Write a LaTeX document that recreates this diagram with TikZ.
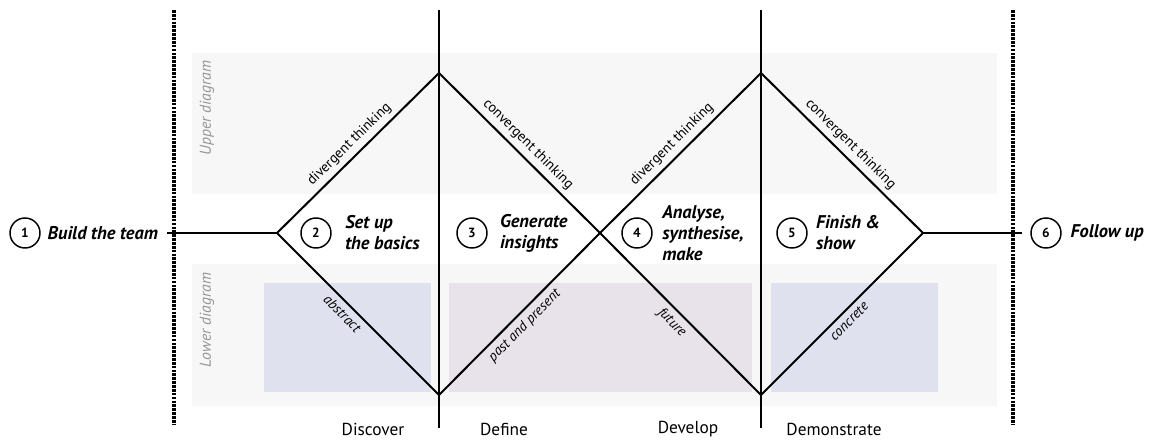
\documentclass[tikz,border=0pt]{standalone}
\usepackage{fontspec}
\setmainfont{PT Sans}
\usetikzlibrary{positioning}

\definecolor{bandgrey}{RGB}{247,247,247}
\definecolor{abstractblue}{RGB}{223,225,238}
\definecolor{futurepink}{RGB}{232,227,234}
\definecolor{labelgrey}{RGB}{150,150,150}

\begin{document}
\begin{tikzpicture}[
x=0.75pt, y=-0.75pt,
node distance=6pt,
phase/.style={line width=1.4pt},
edge/.style={line width=1.5pt, line join=miter},
border/.style={line width=2.4pt, dash pattern=on 2pt off 0.9pt},
stepnum/.style={circle, draw, line width=1.1pt, minimum size=22.5pt, inner sep=0pt, font=\bfseries\fontsize{10}{10}\selectfont},
steptext/.style={font=\bfseries\itshape\fontsize{13.8}{15.75}\selectfont, align=left, inner sep=0pt},
thinking/.style={font=\fontsize{10.6}{10.6}\selectfont, sloped, inner sep=3.5pt},
outlook/.style={font=\itshape\fontsize{10.6}{10.6}\selectfont, sloped, inner sep=3.5pt},
sidelabel/.style={font=\itshape\fontsize{11.8}{11.8}\selectfont, text=labelgrey, rotate=90},
phaselabel/.style={font=\fontsize{13}{13}\selectfont}
]

% background bands
\fill[bandgrey] (192,53) rectangle (997,194);
\fill[bandgrey] (192,264) rectangle (997,406);
\fill[abstractblue] (264,283) rectangle (431,392);
\fill[futurepink] (449,283) rectangle (752,392);
\fill[abstractblue] (771,283) rectangle (938,392);

\node[sidelabel] (upper) at (207,108) {Upper diagram};
\node[sidelabel] (lower) at (207,320) {Lower diagram};

% borders and phase lines
\draw[border] (174,10) -- (174,425);
\draw[border] (1013,10) -- (1013,425);
\draw[phase] (439,10) -- (439,428);
\draw[phase] (761,10) -- (761,428);

% steps
\node[stepnum] (n1) at (25,233) {1};
\node[steptext, right=5pt of n1] (team) {Build the team};
\node[stepnum] (n2) at (316,233) {2};
\node[steptext, right=10pt of n2] (basics) {Set up\\the basics};
\node[stepnum] (n3) at (472,233) {3};
\node[steptext, right=9pt of n3] (insights) {Generate\\insights};
\node[stepnum] (n4) at (637,233) {4};
\node[steptext, right=7pt of n4] (make) {Analyse,\\synthesise,\\make};
\node[stepnum] (n5) at (792,233) {5};
\node[steptext, right=6pt of n5] (show) {Finish \&\\show};
\node[stepnum] (n6) at (1046,233) {6};
\node[steptext, right=6.5pt of n6] (follow) {Follow up};

% double diamond
\coordinate (left) at (277,233);
\coordinate (top1) at (439,73);
\coordinate (bot1) at (439,395);
\coordinate (cross) at (600,233);
\coordinate (top2) at (761,73);
\coordinate (bot2) at (761,395);
\coordinate (right) at (923,233);

\draw[edge, shorten <=6.5pt] (team.east) -- (left);
\draw[edge, shorten >=6.5pt] (right) -- (n6);
\draw[edge] (left) -- node[thinking, above] {divergent thinking} (top1)
  -- node[thinking, above] {convergent thinking} (cross)
  -- node[thinking, above] {divergent thinking} (top2)
  -- node[thinking, above] {convergent thinking} (right);
\draw[edge] (left) -- node[outlook, below, pos=0.45] {abstract} (bot1)
  -- node[outlook, below, pos=0.48] {past and present} (cross)
  -- node[outlook, below, pos=0.5] {future} (bot2)
  -- node[outlook, below, pos=0.5] {concrete} (right);

% phases
\node[phaselabel] (discover) at (373,429) {Discover};
\node[phaselabel] (define) at (504,429) {Define};
\node[phaselabel] (develop) at (688,429) {Develop};
\node[phaselabel] (demonstrate) at (834,429) {Demonstrate};

\useasboundingbox (0,0) rectangle (1150,440);
\end{tikzpicture}
\end{document}
